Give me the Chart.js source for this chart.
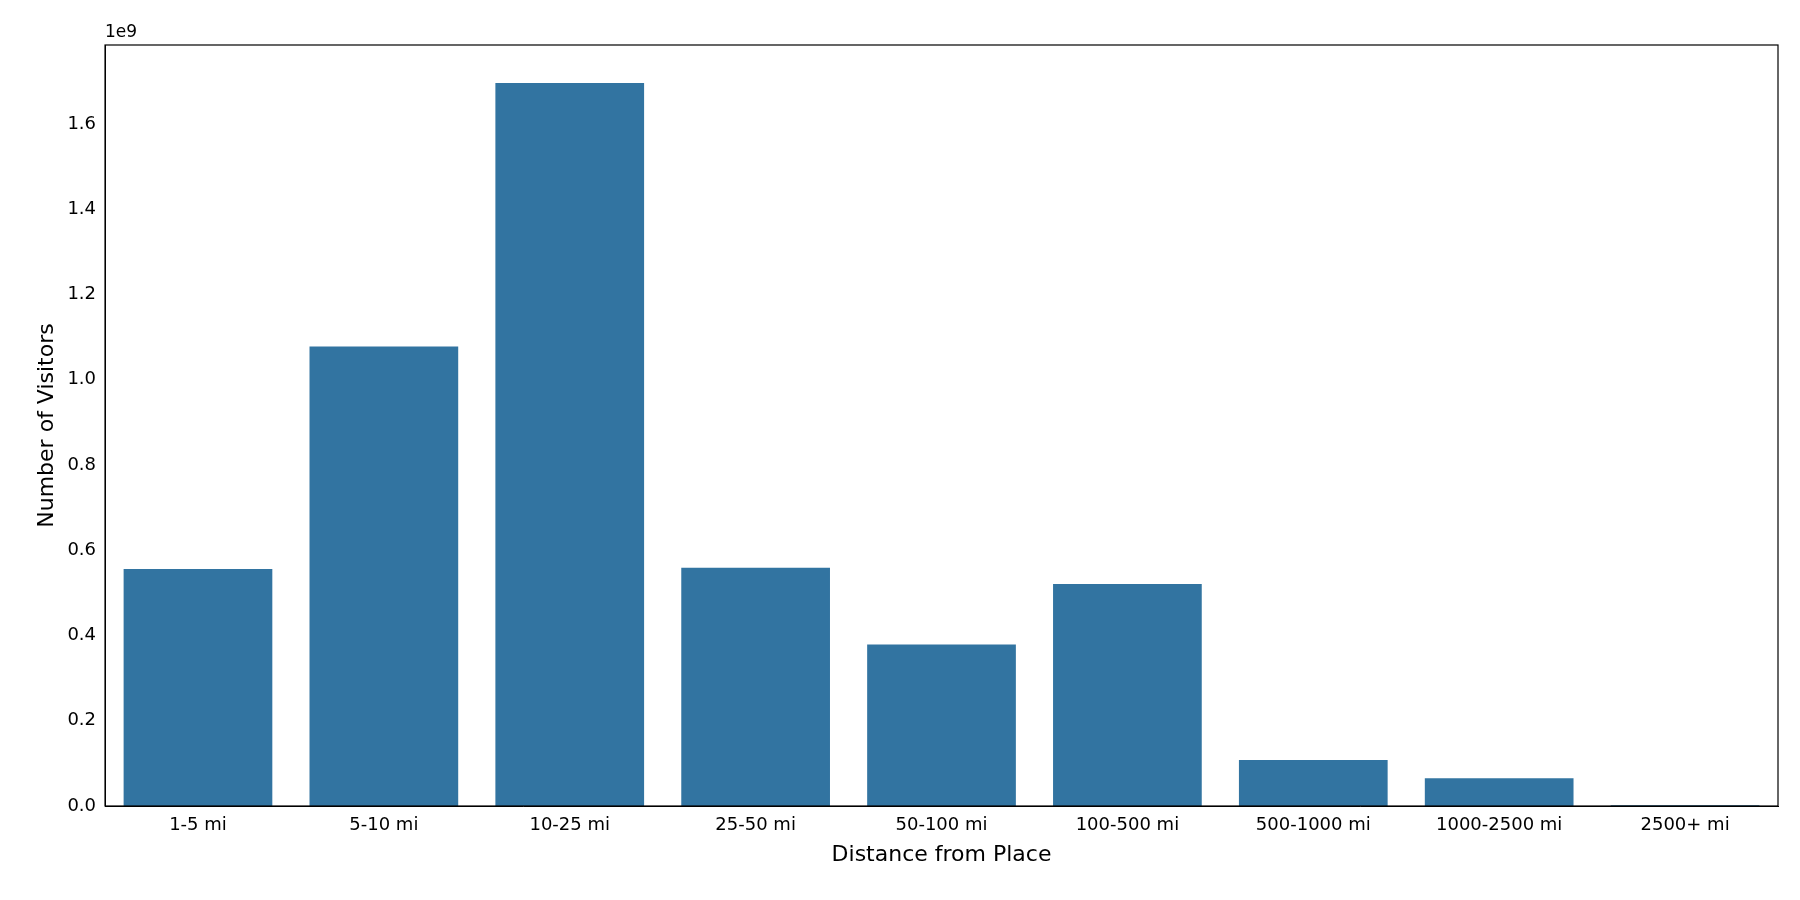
<!DOCTYPE html>
<html lang="en">
<head>
    <meta charset="UTF-8">
    <script src="https://cdn.jsdelivr.net/npm/chart.js"></script>
    <title>Visitors by distance</title>
</head>
<body>
    <div class="chart-wrapper">
        <canvas id="myChart"></canvas>
    </div>
    <style>
        body { background-color: #fff; margin: 0; }
        .chart-wrapper { position: relative; height: 900px; width: 1800px; }
    </style>
    <script>
        const categories = ["1-5 mi", "5-10 mi", "10-25 mi", "25-50 mi", "50-100 mi", "100-500 mi", "500-1000 mi", "1000-2500 mi", "2500+ mi"];
        // values in units of 1e9
        const visitors = [0.556, 1.078, 1.696, 0.559, 0.379, 0.521, 0.108, 0.065, 0.002];

        const frame = {
            id: "frame",
            afterDraw(chart) {
                const { ctx, chartArea: a } = chart;
                ctx.save();
                ctx.strokeStyle = "#000";
                ctx.lineWidth = 1.2;
                ctx.strokeRect(a.left, a.top, a.right - a.left, a.bottom - a.top);
                ctx.fillStyle = "#000";
                ctx.font = "17px 'DejaVu Sans'";
                ctx.textBaseline = "bottom";
                ctx.fillText("1e9", a.left, a.top - 4);
                ctx.restore();
            }
        };

        Chart.defaults.color = "#000";
        Chart.defaults.font.family = "DejaVu Sans";
        Chart.defaults.font.size = 18;

        new Chart(document.getElementById("myChart"), {
            type: "bar",
            data: {
                labels: categories,
                datasets: [{ data: visitors, backgroundColor: "#3274a1", categoryPercentage: 0.8, barPercentage: 1 }]
            },
            options: {
                responsive: true,
                maintainAspectRatio: false,
                animation: false,
                layout: { padding: { top: 45, right: 22, left: 30, bottom: 28 } },
                plugins: { legend: { display: false }, tooltip: { enabled: false } },
                scales: {
                    x: {
                        grid: { display: false, drawTicks: true, tickLength: 6, tickColor: "#000" },
                        border: { color: "#000" },
                        title: { display: true, text: "Distance from Place", font: { size: 22 }, padding: { top: 2 } }
                    },
                    y: {
                        min: 0,
                        max: 1.785,
                        afterBuildTicks: axis => { axis.ticks = axis.ticks.filter(t => t.value < 1.7); },
                        ticks: { stepSize: 0.2, callback: v => v.toFixed(1) },
                        grid: { display: false, drawTicks: true, tickLength: 6, tickColor: "#000" },
                        border: { color: "#000" },
                        title: { display: true, text: "Number of Visitors", font: { size: 22 } }
                    }
                }
            },
            plugins: [frame]
        });
    </script>
</body>
</html>
